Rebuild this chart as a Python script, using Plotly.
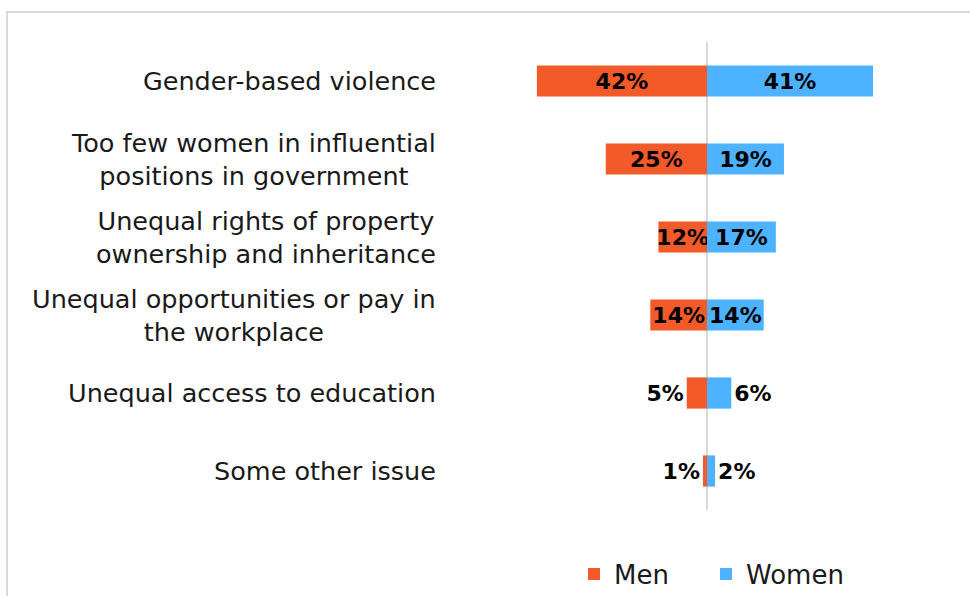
import plotly.graph_objects as go

# Survey categories (top to bottom) and shares by gender, in percent
issues = [
    "Gender-based violence",
    "Too few women in influential<br>positions in government",
    "Unequal rights of property<br>ownership and inheritance",
    "Unequal opportunities or pay in<br>the workplace",
    "Unequal access to education",
    "Some other issue",
]
men = [42, 25, 12, 14, 5, 1]
women = [41, 19, 17, 14, 6, 2]

MEN_COLOR = "#F25A29"
WOMEN_COLOR = "#4DB2FF"
LABEL_FONT = "Century Gothic, DejaVu Sans, sans-serif"

W, H = 970, 596
L, R, T, B = 464, 20, 42, 86
plot_w = W - L - R
plot_h = H - T - B


def text_positions(vals):
    return ["inside" if v >= 10 else "outside" for v in vals]


fig = go.Figure()
fig.add_trace(go.Bar(
    y=issues, x=[-v for v in men], orientation="h", name="Men", legend="legend",
    marker=dict(color=MEN_COLOR, line=dict(width=0)),
    text=[f"{v}%" for v in men], textposition=text_positions(men),
    insidetextanchor="middle",
    textfont=dict(family=LABEL_FONT, size=22, color="#000000", weight="bold"),
    cliponaxis=False, hoverinfo="skip",
))
fig.add_trace(go.Bar(
    y=issues, x=women, orientation="h", name="Women", legend="legend2",
    marker=dict(color=WOMEN_COLOR, line=dict(width=0)),
    text=[f"{v}%" for v in women], textposition=text_positions(women),
    insidetextanchor="middle",
    textfont=dict(family=LABEL_FONT, size=22, color="#000000", weight="bold"),
    cliponaxis=False, hoverinfo="skip",
))

# Category labels, right-aligned block with centred lines
for issue in issues:
    fig.add_annotation(
        xref="paper", yref="y", x=0, y=issue, xanchor="right", yanchor="middle",
        xshift=-26, text=issue, showarrow=False, align="center",
        font=dict(family=LABEL_FONT, size=25.5, color="#1a1a1a"),
    )

# Light chart-area border
fig.add_shape(
    type="rect", xref="paper", yref="paper",
    x0=(7 - L) / plot_w, x1=(W + 20 - L) / plot_w,
    y0=-(B + 20) / plot_h, y1=1 + (T - 12) / plot_h,
    line=dict(color="#D9D9D9", width=2), fillcolor="rgba(0,0,0,0)", layer="below",
)

legend_style = dict(
    orientation="h", xanchor="left", yanchor="middle",
    y=-(574 - (H - B)) / plot_h,
    font=dict(family=LABEL_FONT, size=26, color="#1a1a1a"),
    itemwidth=30, bgcolor="rgba(0,0,0,0)",
)

fig.update_layout(
    width=W, height=H,
    margin=dict(l=L, r=R, t=T, b=B, autoexpand=False),
    paper_bgcolor="white", plot_bgcolor="white",
    barmode="relative", bargap=0.6,
    uniformtext=dict(minsize=22, mode="show"),
    font=dict(family=LABEL_FONT, color="#1a1a1a"),
    xaxis=dict(range=[-60, 60], showgrid=False, showticklabels=False, ticks="",
               zeroline=True, zerolinecolor="#D9D9D9", zerolinewidth=2, fixedrange=True),
    yaxis=dict(autorange="reversed", showgrid=False, showticklabels=False, ticks="",
               zeroline=False, showline=False),
    legend=dict(legend_style, x=(574 - L) / plot_w),
    legend2=dict(legend_style, x=(706 - L) / plot_w),
    showlegend=True,
)

fig.write_html("out.html")
